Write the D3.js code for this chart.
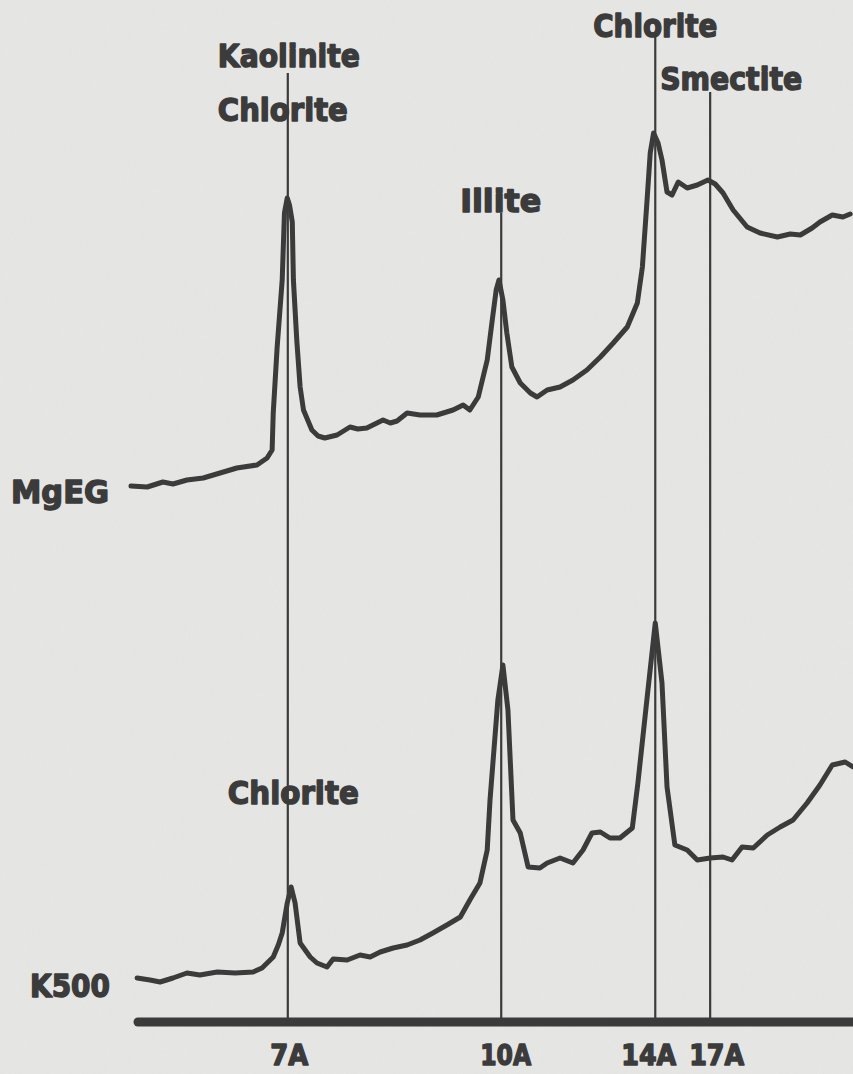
<!DOCTYPE html>
<html>
<head>
<meta charset="utf-8">
<script src="https://cdn.jsdelivr.net/npm/d3@7"></script>
<style>
  html, body { margin: 0; padding: 0; background: #e6e6e4; }
  svg { display: block; }
</style>
</head>
<body>
<svg id="chart" width="853" height="1074"></svg>
<script>
// ---------------- DATA (2θ in degrees, intensity in arbitrary units) ----------------
const mgegTheta = [15.39,15.10,14.82,14.64,14.39,14.10,13.80,13.50,13.14,12.96,12.87,12.85,12.78,12.69,12.65,12.60,12.56,12.51,12.49,12.43,12.37,12.31,12.16,12.05,11.93,11.71,11.48,11.34,11.18,10.89,10.76,10.64,10.46,10.23,9.93,9.64,9.46,9.34,9.19,9.03,8.94,8.87,8.82,8.75,8.68,8.59,8.44,8.26,8.14,7.96,7.73,7.50,7.25,7.01,6.78,6.53,6.35,6.26,6.18,6.12,6.06,5.98,5.91,5.82,5.73,5.62,5.46,5.28,5.09,4.96,4.82,4.64,4.39,4.16,3.85,3.62,3.44,3.23,3.09,2.87,2.68,2.55];
const mgegIntensity = [53.6,53.5,54.0,53.8,54.2,54.4,54.9,55.4,55.7,56.4,57.2,60.9,67.5,74.2,80.9,82.4,81.7,80.0,74.2,68.2,63.5,61.2,59.2,58.6,58.4,58.7,59.5,59.3,59.4,60.2,59.9,60.1,60.9,60.7,60.7,61.2,61.7,61.2,62.5,66.2,70.2,73.2,74.2,72.2,68.9,65.5,63.9,62.9,62.5,63.2,63.5,64.2,65.2,66.5,67.9,69.5,71.9,75.5,81.9,86.9,88.9,87.9,86.2,83.0,82.7,84.0,83.4,83.7,84.2,83.8,82.9,81.2,79.5,78.9,78.5,78.8,78.7,79.4,80.0,80.7,80.5,80.8];

const k500Theta = [15.28,15.05,14.87,14.64,14.39,14.16,13.85,13.53,13.21,13.05,12.85,12.76,12.69,12.60,12.53,12.46,12.37,12.19,12.07,11.89,11.78,11.53,11.30,11.12,10.94,10.71,10.46,10.23,10.00,9.75,9.51,9.34,9.16,9.03,8.98,8.84,8.75,8.66,8.57,8.44,8.30,8.09,7.96,7.73,7.50,7.32,7.16,7.01,6.84,6.66,6.44,6.34,6.18,6.03,5.91,5.82,5.68,5.46,5.28,5.05,4.82,4.66,4.48,4.28,4.03,3.80,3.57,3.32,3.09,2.87,2.64,2.50];
const k500Intensity = [4.4,4.2,4.0,4.4,4.9,4.7,5.0,4.9,5.0,5.4,6.5,7.7,8.9,11.9,13.5,11.9,7.9,6.5,5.9,5.5,6.3,6.2,6.7,6.5,7.0,7.4,7.7,8.2,8.9,9.7,10.5,12.2,13.9,17.2,22.2,32.2,35.7,31.2,20.2,18.9,15.5,15.4,15.9,16.4,15.9,17.2,18.9,19.0,18.4,18.4,19.4,23.9,32.2,39.9,33.9,23.5,17.7,17.2,16.2,16.4,16.5,16.2,17.5,17.4,18.7,19.5,20.2,21.9,23.7,25.7,26.0,25.5];

const seriesNames = ["MgEG", "K500"];
const tickLabels = ["7A", "10A", "14A", "17A"];
const tickTheta = [12.59, 8.78, 6.03, 5.05];

const mgegLabels = ["Kaolinite", "Chlorite", "Illite", "Chlorite", "Smectite"];
const k500Labels = ["Chlorite"];

// ---------------- LAYOUT ----------------
const W = 853, H = 1074;
const svg = d3.select("#chart");
const ink = "#3b3b3b";
const fontFam = "'DejaVu Sans', 'Liberation Sans', sans-serif";

// subtle paper texture
const defs = svg.append("defs");
const f = defs.append("filter").attr("id", "paper").attr("x", 0).attr("y", 0).attr("width", "100%").attr("height", "100%");
f.append("feTurbulence").attr("type", "fractalNoise").attr("baseFrequency", "0.9 0.25").attr("numOctaves", 2).attr("seed", 3).attr("result", "n");
f.append("feColorMatrix").attr("in", "n").attr("type", "matrix")
  .attr("values", "0 0 0 0 0.55  0 0 0 0 0.55  0 0 0 0 0.54  0 0 0 0.10 0");
svg.append("rect").attr("width", W).attr("height", H).attr("fill", "#e6e6e4");
svg.append("rect").attr("width", W).attr("height", H).attr("filter", "url(#paper)").attr("opacity", 0.6);

const axisY = 1022;
const x = d3.scaleLinear().domain([15.3, 2.5]).range([136, 853]);
const y = d3.scaleLinear().domain([0, 100]).range([axisY, 22]);

// vertical reference lines (from below their labels down to the axis)
const lineTops = [73, 213, 37, 92];
svg.append("g").selectAll("line").data(tickTheta).join("line")
  .attr("x1", d => x(d)).attr("x2", d => x(d))
  .attr("y1", (d, i) => lineTops[i]).attr("y2", axisY)
  .attr("stroke", ink).attr("stroke-width", 2.2);

// traces
const lineGen = d3.line().x(d => x(d[0])).y(d => y(d[1])).curve(d3.curveLinear);
const traces = [
  d3.zip(mgegTheta, mgegIntensity),
  d3.zip(k500Theta, k500Intensity)
];
svg.append("g").selectAll("path").data(traces).join("path")
  .attr("d", lineGen)
  .attr("fill", "none")
  .attr("stroke", ink)
  .attr("stroke-width", 5)
  .attr("stroke-linejoin", "round")
  .attr("stroke-linecap", "round");

// axis
const xAxis = d3.axisBottom(x)
  .tickValues(tickTheta)
  .tickFormat((d, i) => tickLabels[i])
  .tickSize(0)
  .tickPadding(0);
const ax = svg.append("g").attr("transform", `translate(0,${axisY})`).call(xAxis);
ax.select(".domain")
  .attr("d", `M${x(15.3) + 2},0H${W + 10}`)
  .attr("stroke", ink).attr("stroke-width", 9).attr("stroke-linecap", "round");
const tickDx = [1, 4, -7, 6];
const tickLen = [38, 51, 55, 55];
ax.selectAll(".tick text")
  .attr("y", 43).attr("dy", 0)
  .attr("x", (d, i) => tickDx[i] - tickLen[i] / 2)
  .attr("text-anchor", "start")
  .attr("textLength", (d, i) => tickLen[i])
  .attr("lengthAdjust", "spacingAndGlyphs")
  .attr("fill", ink)
  .style("font-family", fontFam)
  .style("font-weight", "bold")
  .style("font-size", "29px")
  .attr("stroke", ink).attr("stroke-width", 1.5).attr("stroke-linejoin", "round");

// text helper
function label(txt, x0, base, len) {
  svg.append("text")
    .attr("x", x0).attr("y", base)
    .attr("textLength", len).attr("lengthAdjust", "spacingAndGlyphs")
    .attr("fill", ink)
    .attr("stroke", ink).attr("stroke-width", 1.5).attr("stroke-linejoin", "round")
    .style("font-family", fontFam)
    .style("font-weight", "bold")
    .style("font-size", "32px")
    .text(txt);
}

// mineral labels for MgEG
label(mgegLabels[0], x(tickTheta[0]) - 70, 67, 142);
label(mgegLabels[1], x(tickTheta[0]) - 70, 121, 130);
label(mgegLabels[2], x(tickTheta[1]) - 41, 212, 81);
label(mgegLabels[3], x(tickTheta[2]) - 62, 37, 124);
label(mgegLabels[4], x(tickTheta[3]) - 50, 90, 142);
// mineral label for K500
label(k500Labels[0], x(tickTheta[0]) - 60, 804, 131);

// series names
label(seriesNames[0], 11, 503, 98);
label(seriesNames[1], 30, 997, 80);
</script>
</body>
</html>
